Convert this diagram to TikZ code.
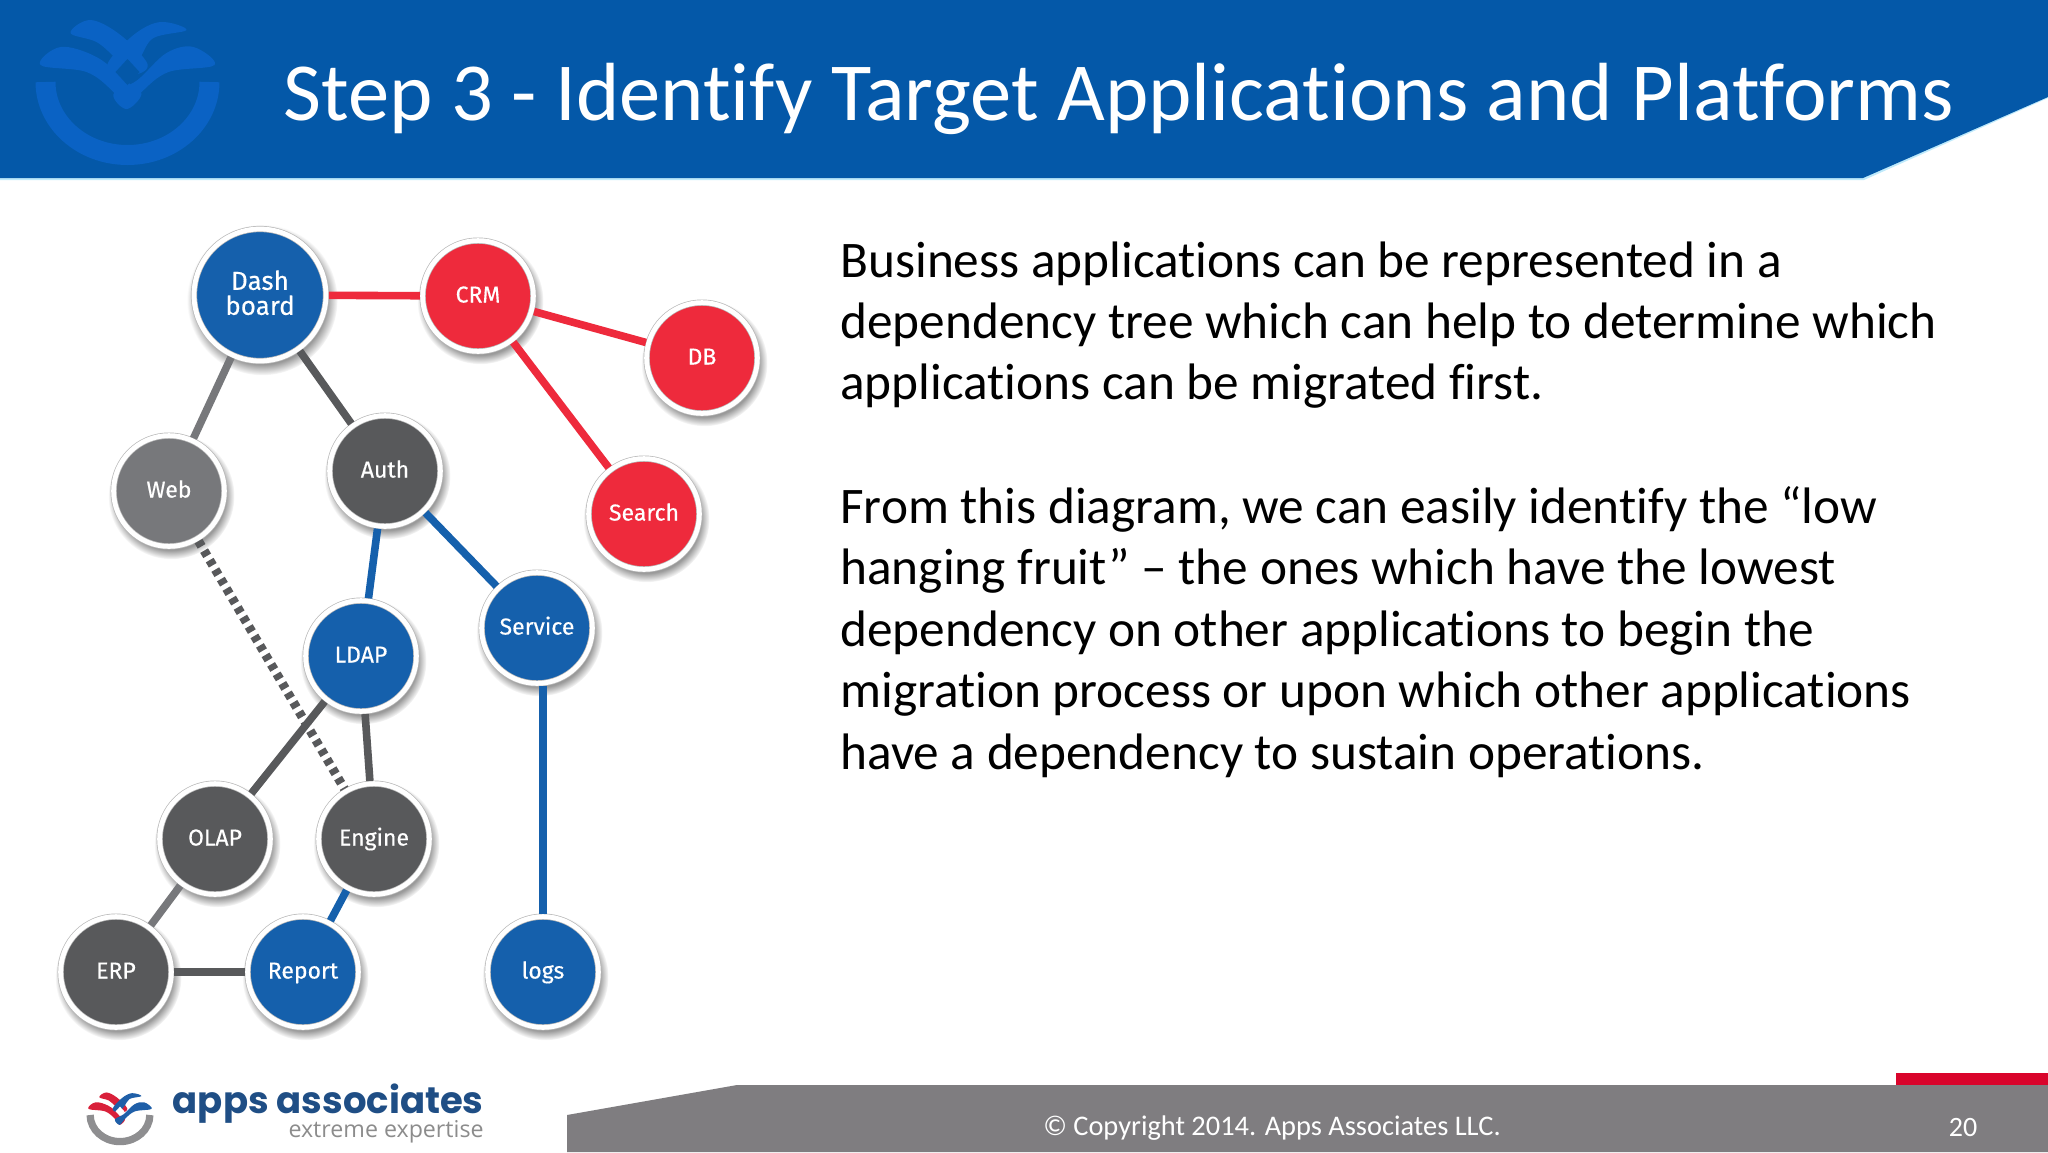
\documentclass[tikz,border=0pt]{standalone}
\usepackage{fontspec}
\setmainfont[Ligatures=NoCommon]{Carlito}
\newfontfamily\labelfont[FakeBold=.35]{Fira Sans}
\newfontfamily\brandfont{Poppins}
\newfontfamily\tagfont{Open Sans}
\usetikzlibrary{shadows}
\definecolor{headblue}{HTML}{0458A8}
\definecolor{ghostblue}{HTML}{0A62C4}
\definecolor{nodeblue}{HTML}{1560AC}
\definecolor{nodered}{HTML}{EE2A3C}
\definecolor{nodedark}{HTML}{58595B}
\definecolor{nodegray}{HTML}{77787B}
\definecolor{footgray}{HTML}{7F7D80}
\definecolor{footred}{HTML}{D9042B}
\definecolor{brandblue}{HTML}{1F4E85}
\definecolor{tagray}{HTML}{8C8C8C}
\definecolor{logored}{HTML}{D9203A}
\definecolor{logoblue}{HTML}{1F5FA8}
\definecolor{logogray}{HTML}{8E8E90}
\tikzset{
  appnode/.style={circle,draw=black!28,line width=.35pt,double=white,double distance=2.4pt,
    minimum size=55.4pt,outer sep=1.4pt,inner sep=0pt,text=white,align=center,
    text height=9.5pt,text depth=3pt,
    font=\labelfont\fontsize{11.5}{12.5}\selectfont,
    circular drop shadow={shadow xshift=1pt,shadow yshift=-2.2pt,shadow scale=1.14,opacity=.8}},
  bluenode/.style={appnode,fill=nodeblue},
  rednode/.style={appnode,fill=nodered},
  darknode/.style={appnode,fill=nodedark},
  graynode/.style={appnode,fill=nodegray},
  link/.style={line width=3.8pt},
  redlink/.style={link,draw=nodered},
  bluelink/.style={link,draw=nodeblue},
  darklink/.style={link,draw=nodedark},
  graylink/.style={link,draw=nodegray},
  dotlink/.style={line width=4.5pt,draw=nodedark,dash pattern=on 3pt off 2.5pt},
  bodytext/.style={anchor=north west,align=left,inner sep=0pt,font=\fontsize{25.65}{30.7}\selectfont,text=black},
}
% logo: #1 left wings, #2 right wings, #3 ring, #4 background
\newcommand{\applogo}[4]{%
  \fill[#1] plot[smooth cycle,tension=.6] coordinates {(-87,-17) (-67,-35) (-31,-25) (0,0) (14,12) (-1,27) (-14,10) (-41,-10)};
  \fill[#2] plot[smooth cycle,tension=.6] coordinates {(87,-17) (66,-35) (39,-29) (10,-2) (-14,12) (-1,27) (14,10) (41,-10)};
  \fill[#1] plot[smooth cycle,tension=.6] coordinates {(-57,-49) (-37,-62) (-7,-47) (20,-18) (6,-8) (-12,-24) (-31,-40)};
  \fill[#2] plot[smooth cycle,tension=.6] coordinates {(59,-52) (33,-60) (6,-47) (-20,-18) (-6,-8) (12,-24) (26,-44)};
  \fill[#4] (0,-23) -- (12,-10) -- (0,3) -- (-12,-10) -- cycle;
  \draw[#3,line width=10pt*\logoscale] (-82,0) arc[start angle=180,end angle=0,x radius=82,y radius=73];
}
\begin{document}
\begin{tikzpicture}[x=0.5pt,y=-0.5pt]
\useasboundingbox (0,0) rectangle (2048,1152);
\fill[white] (0,0) rectangle (2048,1152);
% header
\fill[cyan!25] (0,0) -- (2048,0) -- (2048,98) -- (1864,180) -- (0,180) -- cycle;
\fill[headblue] (0,0) -- (2048,0) -- (2048,97) -- (1863,178) -- (0,178) -- cycle;
\def\logoscale{1}
\begin{scope}[shift={(127.5,82)}]
  \applogo{ghostblue}{ghostblue}{ghostblue}{headblue}
\end{scope}
\node[anchor=base west,inner sep=0pt,text=white,font=\fontsize{41.26}{48}\selectfont] (title) at (283,120) {Step 3 - Identify Target Applications and Platforms};
% footer
\fill[footgray] (567,1152) -- (567,1115) -- (737,1085) -- (2048,1085) -- (2048,1152) -- cycle;
\fill[footred] (1896,1073) rectangle (2048,1085);
\node[text=white,inner sep=0pt,font=\fontsize{14.2}{16}\selectfont] (copy) at (1272,1128) {© Copyright 2014. Apps Associates LLC.};
\node[text=white,inner sep=0pt,font=\fontsize{14}{16}\selectfont] (page) at (1963,1127) {20};
% footer logo
\def\logoscale{.364}
\begin{scope}[shift={(120,1115)},scale=.364]
  \applogo{logored}{logoblue}{logogray}{white}
\end{scope}
\node[anchor=east,inner sep=0pt,text=brandblue,font=\brandfont\bfseries\fontsize{18.5}{22}\selectfont] (brand) at (484,1104) {apps associates};
\node[anchor=east,inner sep=0pt,text=tagray,font=\tagfont\fontsize{11.6}{14}\selectfont] (tag) at (484,1132) {extreme expertise};
% body text
\node[bodytext] (para1) at (840,241) {Business applications can be represented in a\\dependency tree which can help to determine which\\applications can be migrated first.};
\node[bodytext] (para2) at (840,486) {From this diagram, we can easily identify the “low\\hanging fruit” – the ones which have the lowest\\dependency on other applications to begin the\\migration process or upon which other applications\\have a dependency to sustain operations.};
% nodes
\node[bluenode,minimum size=66pt,text height=24.8pt,text depth=5pt,font=\labelfont\fontsize{13}{12.5}\selectfont] (dash) at (260,295) {Dash\\board};
\node[rednode] (crm) at (478,296) {CRM};
\node[rednode] (db) at (702,358) {DB};
\node[graynode] (web) at (169,491) {Web};
\node[darknode] (auth) at (385,471) {Auth};
\node[rednode] (search) at (644,514) {Search};
\node[bluenode] (ldap) at (361,656) {LDAP};
\node[bluenode] (service) at (537,628) {Service};
\node[darknode] (olap) at (215,839) {OLAP};
\node[darknode] (engine) at (374,839) {Engine};
\node[darknode] (erp) at (116,972) {ERP};
\node[bluenode] (report) at (303,972) {Report};
\node[bluenode] (logs) at (543,972) {logs};
% connectors
\draw[redlink] (dash) -- (crm);
\draw[redlink] (crm) -- (db);
\draw[redlink] (crm) -- (search);
\draw[graylink] (dash) -- (web);
\draw[darklink] (dash) -- (auth);
\draw[bluelink] (auth) -- (ldap);
\draw[bluelink] (auth) -- (service);
\draw[dotlink] (web) -- (engine);
\draw[darklink] (ldap) -- (olap);
\draw[darklink] (ldap) -- (engine);
\draw[bluelink] (logs.north) -- (logs.north |- service.south);
\draw[graylink] (olap) -- (erp);
\draw[bluelink] (engine) -- (report);
\draw[darklink] (erp) -- (report);
\end{tikzpicture}
\end{document}
